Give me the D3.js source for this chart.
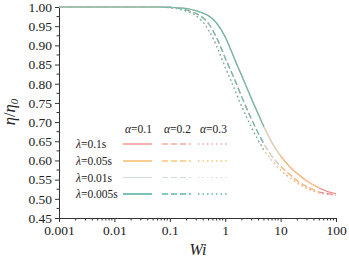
<!DOCTYPE html>
<html><head><meta charset="utf-8">
<script src="https://cdn.jsdelivr.net/npm/d3@7"></script>
<style>body{margin:0;background:#fff}svg{display:block}</style>
</head><body><svg id="c" width="349" height="259"></svg>
<script>
const wi = [0.001, 0.01, 0.05, 0.1, 0.2, 0.3, 0.5, 0.7, 1, 1.5, 2, 3, 5, 7, 10, 15, 20, 30, 50, 70, 100];
const etaAlpha01 = [1,1,1,0.999,0.996,0.990,0.977,0.958,0.922,0.862,0.820,0.760,0.688,0.646,0.612,0.582,0.566,0.546,0.528,0.519,0.513];
const etaAlpha02 = [1,1,1,0.999,0.992,0.983,0.957,0.920,0.867,0.809,0.765,0.707,0.643,0.611,0.585,0.562,0.547,0.532,0.518,0.514,0.510];
const etaAlpha03 = [1,1,1,0.998,0.989,0.977,0.940,0.898,0.843,0.783,0.740,0.685,0.627,0.600,0.575,0.554,0.541,0.527,0.515,0.512,0.509];
const alphas = ["0.1","0.2","0.3"];
const lambdaLabels = ["0.1s","0.05s","0.01s","0.005s"];
const lambdaMaxWi = [100, 50, 10, 5];
const colors = ["#f27f7c","#fac57c","#cfdfd6","#62b8aa"];
const xTicks = [0.001,0.01,0.1,1,10,100];
const xTickLabels = ["0.001","0.01","0.1","1","10","100"];
const yTicks = [0.45,0.5,0.55,0.6,0.65,0.7,0.75,0.8,0.85,0.9,0.95,1.0];

const FONT = '"Liberation Serif","DejaVu Serif","Times New Roman",serif';
const svg = d3.select("#c");
const x = d3.scaleLog().domain([0.001,100]).range([59,336]);
const y = d3.scaleLinear().domain([0.45,1.0]).range([218,7]);
const dashes = [null,"6,3","1.5,3"];
const series = [etaAlpha01, etaAlpha02, etaAlpha03];

// axes
const minorX = [];
for (let e=-3; e<2; e++) for (let k=2;k<10;k++) minorX.push(k*Math.pow(10,e));
const xg = svg.append("g").attr("transform","translate(0,218)");
xg.call(d3.axisBottom(x).tickValues(xTicks).tickFormat((d,i)=>xTickLabels[i]).tickSizeOuter(0).tickSize(4).tickPadding(3));
xg.selectAll(".minor").data(minorX).enter().append("line").attr("x1",d=>x(d)).attr("x2",d=>x(d)).attr("y1",0).attr("y2",2.5).attr("stroke","#333");
const yg = svg.append("g").attr("transform","translate(59,0)");
yg.call(d3.axisLeft(y).tickValues(yTicks).tickFormat(d3.format(".2f")).tickSizeOuter(0).tickSize(4).tickPadding(3));
const minorY = yTicks.slice(0,-1).map(v=>v+0.025);
yg.selectAll(".minor").data(minorY).enter().append("line").attr("x1",0).attr("x2",-2.5).attr("y1",d=>y(d)).attr("y2",d=>y(d)).attr("stroke","#333");
[xg,yg].forEach(g=>g.attr("font-family",null).attr("font-size",null));
svg.selectAll(".tick text").style("font-family",FONT).style("font-size","13.5px").attr("fill","#222");
svg.selectAll(".domain").attr("stroke","#333");
svg.selectAll(".tick line").attr("stroke","#333");

// curves
const line = d3.line().x(d=>x(d[0])).y(d=>y(d[1])).curve(d3.curveMonotoneX);
series.forEach((s,ai)=>{
  lambdaMaxWi.forEach((mx,li)=>{
    const pts = wi.map((w,i)=>[w,s[i]]).filter(p=>p[0]<=mx+1e-9);
    svg.append("path").attr("d",line(pts)).attr("fill","none").attr("stroke",colors[li])
      .attr("stroke-width",1.1).attr("stroke-dasharray",dashes[ai]);
  });
});

// legend
const lx = [123,162,198];
const ly = [144,161,177.5,194];
alphas.forEach((a,i)=>{
  const t = svg.append("text").attr("x",lx[i]+2).attr("y",133).style("font-family",FONT).style("font-size","11.5px").attr("fill","#222");
  t.append("tspan").text("α").style("font-style","italic");
  t.append("tspan").text("="+a);
});
lambdaLabels.forEach((l,li)=>{
  const t = svg.append("text").attr("x",76).attr("y",ly[li]+4).style("font-family",FONT).style("font-size","11.5px").attr("fill","#222");
  t.append("tspan").text("λ").style("font-style","italic");
  t.append("tspan").text("="+l);
  [0,1,2].forEach(ai=>{
    svg.append("line").attr("x1",lx[ai]).attr("x2",lx[ai]+29).attr("y1",ly[li]).attr("y2",ly[li])
      .attr("stroke",colors[li]).attr("stroke-width",li===1||li===3?1.7:1.2).attr("stroke-dasharray",dashes[ai]);
  });
});

// axis titles
svg.append("text").attr("x",198).attr("y",255).attr("text-anchor","middle").style("font-family",FONT).style("font-size","16px").style("font-style","italic").attr("fill","#222").text("Wi");
const yt = svg.append("text").attr("transform","translate(15,112) rotate(-90)").attr("text-anchor","middle").style("font-family",FONT).style("font-size","16.5px").attr("fill","#222");
yt.append("tspan").text("η").style("font-style","italic");
yt.append("tspan").text("/");
yt.append("tspan").text("η").style("font-style","italic");
yt.append("tspan").text("0").style("font-size","11px").style("font-style","italic").attr("dy","3");
</script></body></html>
